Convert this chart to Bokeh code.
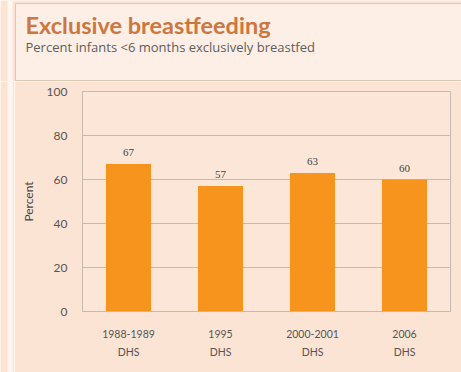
from bokeh.plotting import figure
from bokeh.models import ColumnDataSource, LabelSet, Label
from bokeh.layouts import column, row
from bokeh.embed import file_html
from bokeh.resources import INLINE

surveys = ["1988-1989\nDHS", "1995\nDHS", "2000-2001\nDHS", "2006\nDHS"]
percent = [67, 57, 63, 60]
value_labels = ["67", "57", "63", "60"]
y_ticks = [0, 20, 40, 60, 80, 100]
title_text = "Exclusive breastfeeding"
subtitle_text = "Percent infants <6 months exclusively breastfed"

BG = "#fce4d5"
STRIPE = "#fff6ef"
W, H = 461, 372
HEAD = 81
SIDE = 14
FL, FT, FR, FB = 82, 91, 450, 311  # frame edges (page px)


def bare(width, height, xr, yr):
    f = figure(width=width, height=height, x_range=xr, y_range=yr,
               output_backend="svg", toolbar_location=None,
               x_axis_location=None, y_axis_location=None,
               min_border=0, min_border_left=0, min_border_right=0,
               min_border_top=0, min_border_bottom=0)
    f.frame_align = False
    f.grid.visible = False
    f.outline_line_color = None
    f.background_fill_color = BG
    f.border_fill_color = BG
    return f


# header (title box)
h = bare(W, HEAD, (0, W), (HEAD, 0))
h.quad(left=[15], right=[W + 5], top=[3], bottom=[80],
       fill_color="#fdefe5", line_color="#e0c4b0", line_width=1)
h.quad(left=[7], right=[12], top=[-5], bottom=[HEAD + 5],
       fill_color=STRIPE, line_color=None)
h.add_layout(Label(x=25, y=10, text=title_text, text_font="Lato",
                   text_font_style="bold", text_font_size="23.5px",
                   text_color="#cc7640", text_baseline="top"))
h.add_layout(Label(x=25, y=37, text=subtitle_text,
                   text_font="Open Sans", text_font_size="13px",
                   text_color="#5e5e5e", text_baseline="top"))

# left strip
s = bare(SIDE, H - HEAD, (0, SIDE), (0, 1))
s.quad(left=[7], right=[12], top=[2], bottom=[-1], fill_color=STRIPE, line_color=None)

src = ColumnDataSource(dict(x=surveys, top=percent, lab=value_labels))

p = figure(width=W - SIDE, height=H - HEAD, x_range=surveys, y_range=(0, 100),
           output_backend="svg", toolbar_location=None,
           min_border_left=FL - SIDE, min_border_right=W - FR, min_border_top=FT - HEAD,
           min_border_bottom=H - FB)
p.frame_align = False
p.border_fill_color = BG
p.background_fill_color = "#fce6d8"
p.outline_line_color = "#c4bab2"

p.vbar(x="x", top="top", width=0.49, source=src, color="#f7941d", line_color=None)
p.add_layout(LabelSet(x="x", y="top", text="lab", source=src, text_align="center",
                      text_baseline="bottom", y_offset=8, text_font="Lato",
                      text_font_size="11px", text_color="#444444"))

p.xgrid.grid_line_color = None
p.ygrid.grid_line_color = "#c4bab2"
p.yaxis.ticker = y_ticks
for ax in (p.xaxis, p.yaxis):
    ax.axis_line_color = "#c4bab2"
    ax.major_tick_line_color = None
    ax.major_tick_out = 0
    ax.major_tick_in = 0
    ax.minor_tick_line_color = None
    ax.major_label_text_font = "Lato"
    ax.major_label_text_color = "#555555"
p.yaxis.major_label_standoff = 15
p.xaxis.major_label_standoff = 16
p.yaxis.major_label_text_font_size = "12px"
p.xaxis.major_label_text_font_size = "10.5px"
p.xaxis.major_label_text_line_height = 1.5
p.yaxis.axis_label = "Percent"
p.yaxis.axis_label_text_font = "Lato"
p.yaxis.axis_label_text_font_style = "normal"
p.yaxis.axis_label_text_font_size = "12px"
p.yaxis.axis_label_text_color = "#444444"
p.yaxis.axis_label_standoff = 8

layout = column(h, row(s, p, spacing=0), spacing=0)
open("out.html", "w").write(file_html(layout, INLINE))
